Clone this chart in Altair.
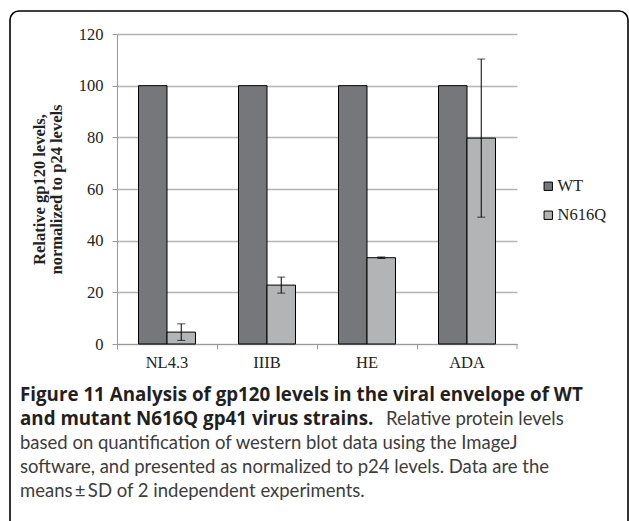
import altair as alt
import pandas as pd

# ---- data ----
strains = ["NL4.3", "IIIB", "HE", "ADA"]
series = ["WT", "N616Q"]
wt_values = [100, 100, 100, 100]
mut_values = [4.6, 22.8, 33.4, 79.7]
mut_sd = [3.2, 3.1, 0.3, 30.6]
y_ticks = [0, 20, 40, 60, 80, 100, 120]
bar_colors = ["#76777a", "#b3b4b6"]
y_title = ["Relative gp120 levels,", "normalized to p24 levels"]
caption_bold_1 = "Figure 11 Analysis of gp120 levels in the viral envelope of WT"
caption_bold_2 = "and mutant N616Q gp41 virus strains."
caption_regular_2 = "Relative protein levels"
caption_regular_rest = [
    "based on quantification of western blot data using the ImageJ",
    "software, and presented as normalized to p24 levels. Data are the",
    "means\u2009\u00b1\u2009SD of 2 independent experiments.",
]

# ---- layout ----
W, H = 400, 310
L, T = 117, 34
SERIF = "Liberation Serif"

bars_df = pd.DataFrame(
    [{"strain": s, "series": "WT", "value": v} for s, v in zip(strains, wt_values)]
    + [{"strain": s, "series": "N616Q", "value": v} for s, v in zip(strains, mut_values)]
)
err_df = pd.DataFrame({
    "strain": strains,
    "series": ["N616Q"] * len(strains),
    "lo": [m - s for m, s in zip(mut_values, mut_sd)],
    "hi": [m + s for m, s in zip(mut_values, mut_sd)],
})
dummy = pd.DataFrame({"k": [0]})

x_axis = alt.Axis(
    title=None, bandPosition=0, ticks=True, tickSize=5,
    tickColor="#9a9a9a", domainColor="#9a9a9a", labelFont=SERIF, labelFontSize=16.5,
    labelColor="#222222", labelPadding=5, labelAngle=0, grid=False,
)
x_scale = alt.Scale(domain=strains, paddingInner=0, paddingOuter=0)
xo_scale = alt.Scale(domain=series, paddingOuter=0.755, paddingInner=0)
y_scale = alt.Scale(domain=[0, 120], nice=False)
y_axis = alt.Axis(
    title=y_title, values=y_ticks, tickSize=5, tickColor="#9a9a9a",
    domainColor="#9a9a9a", gridColor="#b3b3b3", gridWidth=1.5, grid=True,
    labelFont=SERIF, labelFontSize=16.5, labelColor="#222222", labelPadding=9,
    titleFont=SERIF, titleFontSize=16.5, titleFontWeight="bold", titleColor="#222222",
    titleLineHeight=16.5, titlePadding=14,
)

X = alt.X("strain:N", sort=strains, scale=x_scale, axis=x_axis)
XO = alt.XOffset("series:N", sort=series, scale=xo_scale)

bars = alt.Chart(bars_df).mark_bar(stroke="black", strokeWidth=1).encode(
    x=X, xOffset=XO,
    y=alt.Y("value:Q", scale=y_scale, axis=y_axis),
    color=alt.Color(
        "series:N", sort=series, scale=alt.Scale(domain=series, range=bar_colors),
        legend=alt.Legend(
            title=None, orient="none", legendX=423, legendY=144, padding=0,
            symbolType="square", symbolSize=70, symbolStrokeColor="black",
            symbolStrokeWidth=1, labelFont=SERIF, labelFontSize=16.5,
            labelColor="#222222", rowPadding=12, labelOffset=1,
        ),
    ),
)

err_rule = alt.Chart(err_df).mark_rule(color="black", strokeWidth=1).encode(
    x=X, xOffset=XO,
    y=alt.Y("lo:Q", scale=y_scale, axis=y_axis), y2="hi:Q",
)
cap_lo = alt.Chart(err_df).mark_tick(color="black", size=8, thickness=1).encode(
    x=X, xOffset=XO, y=alt.Y("lo:Q", scale=y_scale, axis=y_axis),
)
cap_hi = alt.Chart(err_df).mark_tick(color="black", size=8, thickness=1).encode(
    x=X, xOffset=XO, y=alt.Y("hi:Q", scale=y_scale, axis=y_axis),
)

last_tick = alt.Chart(pd.DataFrame({"strain": [strains[-1]]})).mark_rule(
    color="#9a9a9a", strokeWidth=1
).encode(
    x=alt.X("strain:N", sort=strains, scale=x_scale, axis=x_axis, bandPosition=1),
    y=alt.value(H), y2=alt.value(H + 5),
)

border = alt.Chart(dummy).mark_rect(
    filled=False, stroke="black", strokeWidth=1.6, cornerRadius=9
).encode(
    x=alt.value(10 - L), x2=alt.value(628 - L),
    y=alt.value(11 - T), y2=alt.value(560 - T),
)


def text_layer(txt, x, y, bold):
    return alt.Chart(dummy).mark_text(
        align="left", baseline="alphabetic",
        font="Open Sans" if bold else "Lato",
        fontSize=18.75 if bold else 18.5,
        fontWeight="bold" if bold else "normal",
        color="#231f20" if bold else "#3d3d3d",
    ).encode(text=alt.value(txt), x=alt.value(x - L), y=alt.value(y - T))


captions = [
    text_layer(caption_bold_1, 20, 401, True),
    text_layer(caption_bold_2, 20, 425, True),
    text_layer(caption_regular_2, 386, 425, False),
]
for i, line in enumerate(caption_regular_rest):
    captions.append(text_layer(line, 20, 449 + 24 * i, False))

chart = alt.layer(border, bars, err_rule, cap_lo, cap_hi, last_tick, *captions).properties(
    width=W, height=H,
    autosize=alt.AutoSizeParams(type="none"),
    padding={"left": L, "top": T, "right": 629 - L - W, "bottom": 521 - T - H},
    background="white",
).configure_view(stroke=None)

chart.save("out.html", embed_options={"renderer": "svg", "actions": False})
